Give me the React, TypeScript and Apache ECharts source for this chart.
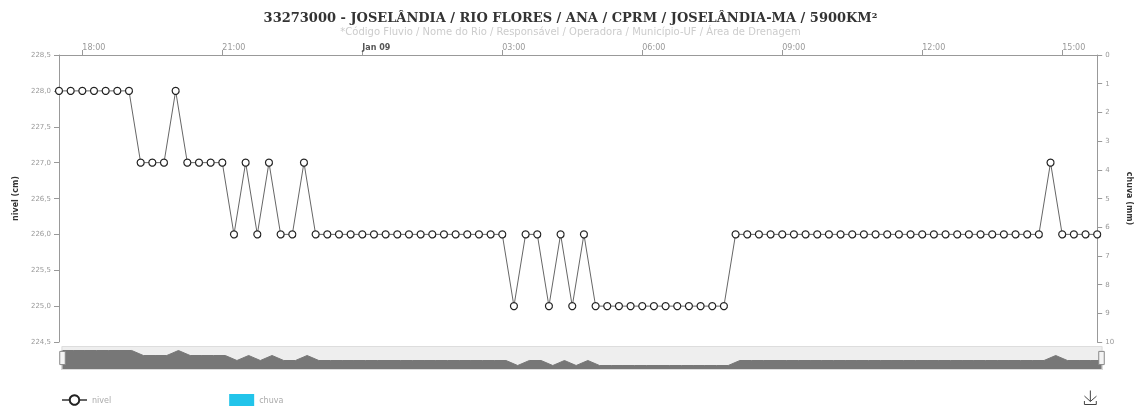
import React, { useEffect, useRef } from "react";
import * as echarts from "echarts";

const titleText = "33273000 - JOSELÂNDIA / RIO FLORES / ANA / CPRM / JOSELÂNDIA-MA / 5900KM²";
const subtitleText = "*Código Fluvio / Nome do Rio / Responsável / Operadora / Município-UF / Área de Drenagem";

const times: string[] = [
  "08 17:30", "08 17:45", "08 18:00", "08 18:15", "08 18:30", "08 18:45",
  "08 19:00", "08 19:15", "08 19:30", "08 19:45", "08 20:00", "08 20:15",
  "08 20:30", "08 20:45", "08 21:00", "08 21:15", "08 21:30", "08 21:45",
  "08 22:00", "08 22:15", "08 22:30", "08 22:45", "08 23:00", "08 23:15",
  "08 23:30", "08 23:45",
  "09 00:00", "09 00:15", "09 00:30", "09 00:45", "09 01:00", "09 01:15",
  "09 01:30", "09 01:45", "09 02:00", "09 02:15", "09 02:30", "09 02:45",
  "09 03:00", "09 03:15", "09 03:30", "09 03:45", "09 04:00", "09 04:15",
  "09 04:30", "09 04:45", "09 05:00", "09 05:15", "09 05:30", "09 05:45",
  "09 06:00", "09 06:15", "09 06:30", "09 06:45", "09 07:00", "09 07:15",
  "09 07:30", "09 07:45", "09 08:00", "09 08:15", "09 08:30", "09 08:45",
  "09 09:00", "09 09:15", "09 09:30", "09 09:45", "09 10:00", "09 10:15",
  "09 10:30", "09 10:45", "09 11:00", "09 11:15", "09 11:30", "09 11:45",
  "09 12:00", "09 12:15", "09 12:30", "09 12:45", "09 13:00", "09 13:15",
  "09 13:30", "09 13:45", "09 14:00", "09 14:15", "09 14:30", "09 14:45",
  "09 15:00", "09 15:15", "09 15:30", "09 15:45",
];

const nivel: number[] = [
  228, 228, 228, 228, 228, 228, 228,
  227, 227, 227,
  228,
  227, 227, 227, 227,
  226, 227, 226, 227, 226, 226, 227,
  226, 226, 226, 226, 226, 226, 226, 226, 226, 226, 226, 226, 226, 226, 226, 226, 226,
  225, 226, 226, 225, 226, 225, 226,
  225, 225, 225, 225, 225, 225, 225, 225, 225, 225, 225, 225,
  226, 226, 226, 226, 226, 226, 226, 226, 226, 226, 226, 226, 226, 226, 226, 226, 226, 226, 226, 226, 226, 226, 226, 226, 226, 226, 226,
  227,
  226, 226, 226, 226,
];

const chuva: (number | null)[] = times.map(() => null);

const nivelTicks = { min: 224.5, max: 228.5, interval: 0.5 };
const chuvaTicks = { min: 0, max: 10, interval: 1 };

const isMajor = (t: string) => {
  const hm = t.slice(3);
  const h = parseInt(hm.slice(0, 2), 10);
  return hm.endsWith(":00") && h % 3 === 0;
};

export default function App() {
  const ref = useRef<HTMLDivElement>(null);
  useEffect(() => {
    if (!ref.current) return;
    const chart = echarts.init(ref.current, undefined, { renderer: "svg" });
    const labelColor = "#999";
    const axisColor = "#999";
    chart.setOption({
      animation: false,
      title: {
        text: titleText,
        subtext: subtitleText,
        left: "center",
        top: 6,
        itemGap: 2,
        textStyle: { fontFamily: "DejaVu Serif", fontSize: 13, fontWeight: "bold", color: "#333" },
        subtextStyle: { fontFamily: "DejaVu Sans", fontSize: 10, color: "#cccccc" },
      },
      legend: {
        left: 61,
        bottom: 4,
        padding: 0,
        itemGap: 118,
        itemWidth: 25,
        itemHeight: 12,
        textStyle: { fontFamily: "DejaVu Sans", fontSize: 8, color: "#aaa" },
        data: [{ name: "nivel" }, { name: "chuva", icon: "rect" }],
      },
      toolbox: {
        right: 42,
        bottom: 3,
        padding: 0,
        itemSize: 14,
        iconStyle: { borderColor: "#444" },
        feature: { saveAsImage: { title: "" } },
      },
      grid: { left: 59, right: 41, top: 55, bottom: 68 },
      xAxis: {
        type: "category",
        data: times,
        position: "top",
        boundaryGap: false,
        axisLine: { lineStyle: { color: axisColor } },
        axisTick: { interval: (i: number, v: string) => isMajor(v), lineStyle: { color: axisColor } },
        axisLabel: {
          interval: (i: number, v: string) => isMajor(v),
          fontFamily: "DejaVu Sans",
          fontSize: 8,
          color: labelColor,
          margin: 4,
          align: "left",
          formatter: (v: string) => (v === "09 00:00" ? "{b|Jan 09}" : v.slice(3)),
          rich: { b: { fontWeight: "bold", fontSize: 8, color: "#555", fontFamily: "DejaVu Sans" } },
        },
        splitLine: { show: false },
      },
      yAxis: [
        {
          type: "value",
          name: "nivel (cm)",
          nameLocation: "middle",
          nameGap: 40,
          nameRotate: 90,
          nameTextStyle: { fontFamily: "DejaVu Sans", fontSize: 8, fontWeight: "bold", color: "#333" },
          min: nivelTicks.min,
          max: nivelTicks.max,
          interval: nivelTicks.interval,
          axisLine: { show: true, lineStyle: { color: axisColor } },
          axisTick: { show: true, lineStyle: { color: axisColor } },
          axisLabel: {
            fontFamily: "DejaVu Sans",
            fontSize: 7,
            color: labelColor,
            formatter: (v: number) => v.toFixed(1).replace(".", ","),
          },
          splitLine: { show: false },
        },
        {
          type: "value",
          name: "chuva (mm)",
          nameLocation: "middle",
          nameGap: 24,
          nameRotate: -90,
          nameTextStyle: { fontFamily: "DejaVu Sans", fontSize: 8, fontWeight: "bold", color: "#333" },
          min: chuvaTicks.min,
          max: chuvaTicks.max,
          interval: chuvaTicks.interval,
          inverse: true,
          axisLine: { show: true, lineStyle: { color: axisColor } },
          axisTick: { show: true, lineStyle: { color: axisColor } },
          axisLabel: { fontFamily: "DejaVu Sans", fontSize: 7, color: labelColor },
          splitLine: { show: false },
        },
      ],
      dataZoom: [
        {
          type: "slider",
          xAxisIndex: 0,
          left: 59,
          right: 41,
          top: 346,
          height: 24,
          showDetail: false,
          brushSelect: false,
          moveHandleSize: 0,
          backgroundColor: "#eeeeee",
          borderColor: "#dddddd",
          fillerColor: "rgba(0,0,0,0)",
          handleIcon: "path://M0,0 L10,0 L10,24 L0,24 Z",
          handleSize: "55%",
          handleStyle: { color: "#f4f4f4", borderColor: "#888" },
          dataBackground: {
            lineStyle: { color: "#777", width: 1, opacity: 1 },
            areaStyle: { color: "#777", opacity: 1 },
          },
          selectedDataBackground: {
            lineStyle: { color: "#777", width: 1, opacity: 1 },
            areaStyle: { color: "#777", opacity: 1 },
          },
        },
      ],
      series: [
        {
          name: "nivel",
          type: "line",
          yAxisIndex: 0,
          data: nivel,
          symbol: "circle",
          symbolSize: 7,
          showAllSymbol: true,
          itemStyle: { color: "#fff", borderColor: "#222", borderWidth: 1.2 },
          lineStyle: { color: "#666", width: 1 },
        },
        {
          name: "chuva",
          type: "bar",
          yAxisIndex: 1,
          data: chuva,
          itemStyle: { color: "#22c4ea" },
        },
      ],
    });
    return () => chart.dispose();
  }, []);
  return <div ref={ref} style={{ position: "fixed", left: 0, top: 0, width: 1141, height: 410 }} />;
}
